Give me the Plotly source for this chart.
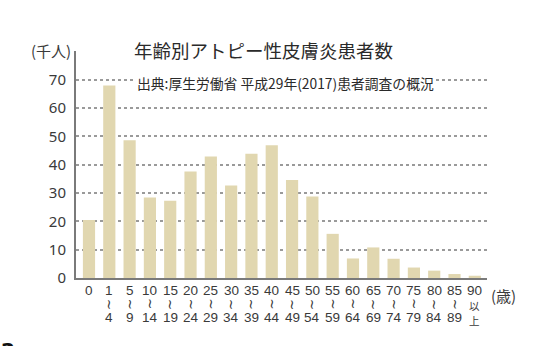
import plotly.graph_objects as go

# Age groups (start / end of each band) and patient counts in thousands
age_top = ["0", "1", "5", "10", "15", "20", "25", "30", "35", "40",
           "45", "50", "55", "60", "65", "70", "75", "80", "85", "90"]
age_mid = ["", "~", "~", "~", "~", "~", "~", "~", "~", "~",
           "~", "~", "~", "~", "~", "~", "~", "~", "~", "以"]
age_bottom = ["", "4", "9", "14", "19", "24", "29", "34", "39", "44",
              "49", "54", "59", "64", "69", "74", "79", "84", "89", "上"]
patients = [20.5, 68.0, 48.7, 28.4, 27.3, 37.6, 42.9, 32.7, 43.9, 46.9,
            34.6, 28.8, 15.6, 6.9, 10.8, 6.8, 3.7, 2.6, 1.4, 0.8]
y_ticks = [0, 10, 20, 30, 40, 50, 60, 70]

FONT = "Noto Sans CJK JP"
NUM_FONT = "Liberation Sans"
TXT = "#3a3a3a"
idx = list(range(len(age_top)))

fig = go.Figure(go.Bar(
    x=idx, y=patients, width=0.6,
    marker=dict(color="#e1d7b0", line=dict(width=0)),
))


def label(i, text, shift, family, size, angle=0):
    return dict(x=i, y=0, xref="x", yref="y", text=text, showarrow=False,
                yanchor="middle", yshift=shift, textangle=angle, borderpad=0,
                font=dict(family=family, size=size, color=TXT))


# age labels stacked under each bar: start, wave mark (or 以), end
ann = []
for i in idx:
    ann.append(label(i, age_top[i], -12.5, NUM_FONT, 13.5))
    if age_mid[i] == "~":
        ann.append(label(i, "~", -26, "DejaVu Sans", 13.5, angle=90))
        ann.append(label(i, age_bottom[i], -39.5, NUM_FONT, 13.5))
    elif age_mid[i]:
        ann.append(label(i, age_mid[i], -27.5, FONT, 10.5))
        ann.append(label(i, age_bottom[i], -42.8, FONT, 10.5))

ann += [
    dict(x=73, y=50, xref="paper", yref="paper", text="(千人)", showarrow=False,
         xanchor="right", yanchor="middle", font=dict(family=FONT, size=15, color=TXT)),
    dict(x=489, y=296, xref="paper", yref="paper", text="(歳)", showarrow=False,
         xanchor="left", yanchor="middle", font=dict(family=FONT, size=15, color=TXT)),
    dict(x=132, y=50, xref="paper", yref="paper", text="年齢別アトピー性皮膚炎患者数", showarrow=False,
         xanchor="left", yanchor="middle", font=dict(family=FONT, size=18.5, color="#2a2a2a")),
    dict(x=135, y=83, xref="paper", yref="paper",
         text="出典:厚生労働省 平成29年(2017)患者調査の概況", showarrow=False,
         xanchor="left", yanchor="middle", bgcolor="white", borderpad=1,
         font=dict(family=FONT, size=13.8, color="#2a2a2a")),
    dict(x=-1, y=337, xref="paper", yref="paper", text="<b>2</b>", showarrow=False,
         xanchor="left", yanchor="top", font=dict(family="DejaVu Sans", size=20, color="#111111")),
]

# paper coordinates above are given in pixels; convert to fractions of the figure
W, H = 538, 346
ML, MR, MT, MB = 76, 51, 51, 67.5
for a in ann:
    if a["xref"] == "paper":
        a["x"] = (a["x"] - ML) / (W - ML - MR)
        a["y"] = 1 - (a["y"] - MT) / (H - MT - MB)

fig.update_layout(
    width=W, height=H,
    margin=dict(l=ML, r=MR, t=MT, b=MB, pad=0),
    paper_bgcolor="white", plot_bgcolor="white",
    showlegend=False,
    annotations=ann,
    xaxis=dict(range=[-0.64, 19.6], showticklabels=False, showgrid=False, zeroline=False,
               showline=True, linecolor="#7a7a7a", linewidth=2, ticks=""),
    yaxis=dict(range=[0, 80.2], tickvals=y_ticks, showgrid=True, gridcolor="#9a9a9a",
               griddash="dot", gridwidth=1.5, zeroline=False, showline=True,
               linecolor="#7a7a7a", linewidth=2, ticks="", ticklabelstandoff=5,
               tickfont=dict(family="Noto Sans", size=15, color=TXT)),
)

fig.write_html("out.html")
